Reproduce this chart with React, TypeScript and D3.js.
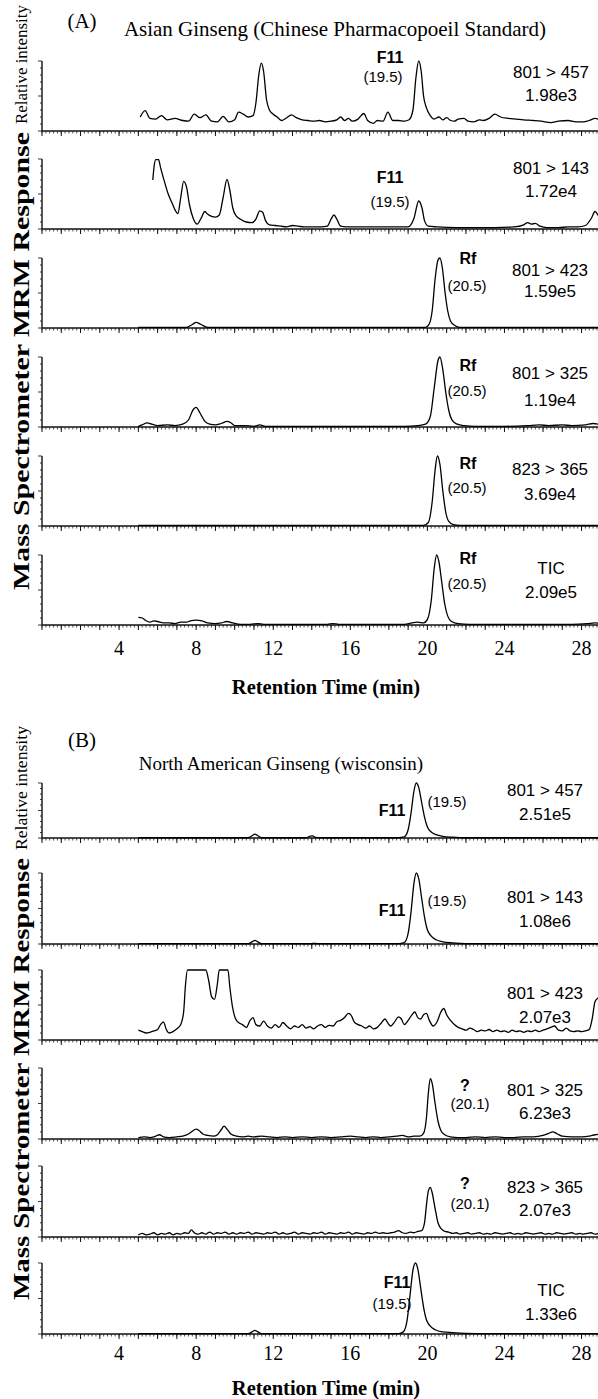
import React from 'react';
import * as d3 from 'd3';

type Pt = [number, number];

// ---------- DATA ----------
const xTickLabels = [4, 8, 12, 16, 20, 24, 28];

// Panel A (Asian Ginseng) traces: [retention time (min), relative intensity (%)]
const a801_457: Pt[] = [[5.1,20],[5.35,29],[5.6,18],[5.9,17],[6.2,22],[6.5,16],[6.9,18],[7.3,15],[7.6,14],[7.9,24],[8.2,19],[8.5,23],[8.8,14],[9.1,13],[9.4,21],[9.7,13],[10.0,16],[10.2,27],[10.45,24],[10.7,20],[10.95,22],[11.1,40],[11.25,80],[11.38,97],[11.5,85],[11.65,45],[11.8,30],[12.0,24],[12.2,20],[12.45,15],[12.7,19],[12.95,23],[13.2,19],[13.5,16],[13.8,15],[14.1,14],[14.4,15],[14.7,13],[15.0,14],[15.3,16],[15.5,20],[15.7,15],[15.9,18],[16.1,14],[16.4,17],[16.7,25],[16.9,15],[17.2,11],[17.4,15],[17.7,14],[17.95,27],[18.2,15],[18.5,15],[18.8,14],[19.05,16],[19.25,30],[19.4,75],[19.55,100],[19.68,85],[19.8,50],[19.95,33],[20.15,22],[20.35,17],[20.6,20],[20.8,16],[21.0,19],[21.2,15],[21.4,14],[21.6,17],[21.9,18],[22.1,14],[22.4,13],[22.7,16],[22.9,15],[23.2,18],[23.5,24],[23.8,20],[24.2,18],[24.6,17],[25.0,16],[25.5,15],[25.9,14],[26.4,12],[26.8,14],[27.3,15],[27.7,13],[28.1,13],[28.4,15],[28.7,18],[29.0,15]];
const a801_143: Pt[] = [[5.75,70],[5.82,90],[5.9,99],[6.05,99],[6.15,88],[6.35,68],[6.55,50],[6.75,37],[6.95,25],[7.05,22],[7.2,45],[7.35,68],[7.5,60],[7.65,35],[7.85,15],[8.05,7],[8.25,15],[8.45,25],[8.6,21],[8.8,18],[9.0,17],[9.2,20],[9.4,45],[9.6,71],[9.75,55],[9.9,30],[10.1,18],[10.3,14],[10.6,10],[10.9,9],[11.1,14],[11.3,26],[11.45,24],[11.6,12],[11.8,6],[12.1,5],[12.4,4],[12.7,3],[13.0,5],[13.3,4],[13.6,3],[14.0,3],[14.5,3],[14.8,4],[15.0,14],[15.15,20],[15.3,14],[15.5,4],[15.8,3],[16.5,3],[17.5,3],[18.5,3],[19.0,3],[19.3,15],[19.55,40],[19.72,30],[19.85,12],[20.05,4],[20.5,3],[21.5,2],[22.5,2],[23.5,2],[24.5,3],[25.0,6],[25.2,9],[25.4,7],[25.6,8],[25.85,4],[26.2,2],[26.8,2],[27.3,3],[27.8,3],[28.2,5],[28.5,15],[28.7,25],[28.85,20],[29.0,12]];
const a801_423: Pt[] = [[5.0,1],[6,1],[7.5,1],[7.8,5],[8.0,8],[8.25,5],[8.6,1],[10,1],[14,1],[19,1],[19.9,1],[20.1,6],[20.25,25],[20.4,70],[20.55,97],[20.65,100],[20.78,85],[20.92,50],[21.05,25],[21.2,10],[21.4,4],[21.7,1],[25,1],[29,1]];
const a801_325: Pt[] = [[5.0,1],[5.2,3],[5.45,6],[5.7,4],[6.0,2],[6.5,3],[6.9,2],[7.3,4],[7.6,10],[7.85,25],[8.0,28],[8.2,20],[8.45,8],[8.7,4],[9.0,3],[9.3,5],[9.6,8],[9.8,6],[10.0,2],[10.5,2],[11.0,1],[11.3,3],[11.6,1],[13,1],[15.5,1],[17,1],[18.8,1],[19.5,2],[19.9,4],[20.15,15],[20.35,55],[20.55,95],[20.65,100],[20.8,82],[20.95,50],[21.1,25],[21.3,9],[21.55,4],[21.9,2],[22.5,1],[24,1],[25.2,2],[25.8,3],[26.3,2],[27,3],[27.5,2],[28.2,3],[28.6,5],[29.0,3]];
const a823_365: Pt[] = [[5.0,1],[10,1],[15,1],[19.8,1],[20.05,5],[20.25,35],[20.4,80],[20.52,100],[20.65,88],[20.8,50],[20.95,20],[21.1,7],[21.35,2],[21.7,1],[25,1],[29,1]];
const aTIC: Pt[] = [[5.0,11],[5.2,10],[5.4,6],[5.6,4],[5.8,6],[6.0,5],[6.3,3],[6.6,3],[6.9,2],[7.2,4],[7.5,4],[7.7,6],[8.0,7],[8.3,6],[8.6,3],[9.0,2],[9.3,3],[9.6,5],[9.9,3],[10.3,1],[10.8,1],[11.2,2],[11.5,1],[12.5,1],[14.8,1],[15.1,2],[15.4,1],[17,1],[18.8,1],[19.2,3],[19.5,4],[19.8,3],[20.0,8],[20.2,35],[20.35,80],[20.48,100],[20.6,90],[20.75,60],[20.9,30],[21.05,13],[21.25,5],[21.6,2],[22.2,1],[25,1],[27.5,1],[28.3,2],[28.7,3],[29.0,2]];

// Panel B (North American Ginseng) traces
const b801_457: Pt[] = [[5.0,0.5],[9,0.5],[10.7,0.5],[10.9,4],[11.05,7],[11.2,4],[11.4,0.5],[13.7,0.5],[13.9,3],[14.05,4],[14.2,1],[14.5,0.5],[18.5,0.5],[18.8,2],[19.0,15],[19.15,45],[19.3,85],[19.42,100],[19.55,92],[19.7,65],[19.85,38],[20.0,20],[20.2,11],[20.45,6],[20.8,3],[21.3,1.5],[22,0.5],[23,0.5],[29,0.5]];
const b801_143: Pt[] = [[5,0.5],[10.7,0.5],[10.9,3],[11.05,5],[11.2,3],[11.4,0.5],[14,0.5],[14.1,1],[14.3,0.5],[18.5,0.5],[18.8,2],[19.0,15],[19.15,45],[19.3,85],[19.42,100],[19.55,92],[19.7,65],[19.85,38],[20.0,20],[20.2,11],[20.45,6],[20.8,3],[21.3,1.5],[22,0.5],[23,0.5],[29,0.5]];
const b801_423: Pt[] = [[5.0,14],[5.2,12],[5.4,10],[5.6,11],[5.8,13],[6.0,15],[6.15,22],[6.3,26],[6.45,15],[6.6,10],[6.8,12],[7.0,16],[7.2,22],[7.35,40],[7.45,80],[7.55,100],[8.5,100],[8.65,85],[8.8,62],[8.95,58],[9.1,80],[9.2,100],[9.65,100],[9.75,75],[9.9,45],[10.05,30],[10.2,25],[10.4,22],[10.6,18],[10.8,28],[10.95,32],[11.1,22],[11.3,20],[11.5,27],[11.7,20],[11.9,17],[12.1,22],[12.3,18],[12.5,25],[12.7,20],[12.9,16],[13.1,20],[13.3,18],[13.5,22],[13.7,17],[13.9,19],[14.1,16],[14.3,20],[14.5,22],[14.7,18],[14.9,21],[15.1,20],[15.3,26],[15.5,28],[15.7,32],[15.9,38],[16.05,35],[16.2,26],[16.4,22],[16.6,20],[16.8,17],[17.0,20],[17.2,16],[17.4,18],[17.6,24],[17.8,30],[17.95,24],[18.1,20],[18.3,26],[18.5,33],[18.65,30],[18.8,22],[19.0,28],[19.2,36],[19.35,40],[19.5,32],[19.65,30],[19.8,36],[19.95,38],[20.1,28],[20.3,20],[20.5,26],[20.7,40],[20.85,45],[21.0,36],[21.2,28],[21.4,22],[21.6,18],[21.8,16],[22.0,14],[22.2,17],[22.4,15],[22.6,12],[22.8,14],[23.0,13],[23.2,15],[23.4,12],[23.6,14],[23.8,12],[24.0,13],[24.2,11],[24.4,14],[24.6,12],[24.8,13],[25.0,11],[25.2,13],[25.4,12],[25.6,14],[25.8,12],[26.0,14],[26.2,16],[26.4,18],[26.6,20],[26.8,14],[27.0,13],[27.2,17],[27.4,13],[27.6,12],[27.8,13],[28.0,12],[28.2,13],[28.4,15],[28.55,30],[28.7,55],[28.85,60],[29.0,62]];
const b801_325: Pt[] = [[5.0,2],[5.3,3],[5.6,2],[5.9,4],[6.1,6],[6.3,3],[6.6,2],[7.0,3],[7.3,4],[7.6,7],[7.8,11],[8.0,14],[8.15,12],[8.35,7],[8.6,5],[8.9,4],[9.1,6],[9.3,13],[9.45,18],[9.6,14],[9.8,7],[10.1,4],[10.4,3],[10.7,4],[11.0,3],[11.4,4],[11.8,3],[12.2,2],[12.6,3],[13.0,2],[13.5,3],[14.0,2],[14.5,3],[15.0,2],[15.5,3],[16.0,4],[16.4,3],[16.8,2],[17.2,3],[17.6,2],[18.0,3],[18.4,4],[18.7,5],[19.0,3],[19.3,4],[19.6,4],[19.8,8],[19.95,30],[20.05,65],[20.15,85],[20.25,78],[20.4,50],[20.55,25],[20.7,12],[20.9,6],[21.2,3],[21.6,2],[22.0,2],[22.5,3],[23.0,2],[23.5,3],[24.0,2],[24.5,2],[25.0,3],[25.5,3],[26.0,5],[26.3,8],[26.5,10],[26.75,7],[27.0,4],[27.5,3],[28.0,3],[28.4,4],[28.7,6],[29.0,7]];
const b823_365: Pt[] = [[5.0,3],[5.2,5],[5.4,3],[5.6,4],[5.8,6],[6.0,3],[6.2,5],[6.4,4],[6.6,6],[6.8,3],[7.0,5],[7.2,4],[7.4,6],[7.6,5],[7.75,10],[7.9,6],[8.1,4],[8.3,6],[8.5,4],[8.7,7],[8.9,4],[9.1,6],[9.3,5],[9.5,7],[9.7,4],[9.9,6],[10.1,4],[10.3,6],[10.5,5],[10.7,7],[10.9,4],[11.1,6],[11.3,5],[11.5,4],[11.7,6],[11.9,5],[12.1,7],[12.3,4],[12.5,6],[12.7,4],[12.9,5],[13.1,7],[13.3,4],[13.5,6],[13.7,5],[13.9,4],[14.1,6],[14.3,5],[14.5,7],[14.7,4],[14.9,6],[15.1,5],[15.3,4],[15.5,6],[15.7,5],[15.9,7],[16.1,4],[16.3,6],[16.5,5],[16.7,4],[16.9,6],[17.1,5],[17.3,7],[17.5,5],[17.7,6],[17.9,5],[18.1,6],[18.3,7],[18.5,9],[18.7,6],[18.9,5],[19.1,7],[19.3,6],[19.5,8],[19.7,9],[19.85,20],[19.95,45],[20.05,65],[20.15,70],[20.25,62],[20.4,40],[20.55,20],[20.7,12],[20.9,8],[21.1,7],[21.3,5],[21.5,6],[21.7,4],[21.9,5],[22.1,6],[22.3,4],[22.5,5],[22.7,6],[22.9,4],[23.1,5],[23.3,4],[23.5,6],[23.7,5],[23.9,4],[24.1,5],[24.3,6],[24.5,4],[24.7,5],[24.9,4],[25.1,6],[25.3,5],[25.5,4],[25.7,5],[25.9,6],[26.1,4],[26.3,5],[26.5,4],[26.7,6],[26.9,5],[27.1,4],[27.3,5],[27.5,6],[27.7,4],[27.9,5],[28.1,4],[28.3,5],[28.5,6],[28.7,4],[28.9,5],[29.0,5]];
const bTIC: Pt[] = [[5,0.5],[10.7,0.5],[10.9,3],[11.05,5],[11.2,3],[11.4,0.5],[18.5,0.5],[18.75,3],[18.95,20],[19.1,55],[19.25,90],[19.38,100],[19.5,92],[19.65,65],[19.8,38],[19.95,20],[20.15,11],[20.4,6],[20.8,3],[21.3,2],[22,1],[23,0.5],[29,0.5]];

const aTransitions = ['801 > 457', '801 > 143', '801 > 423', '801 > 325', '823 > 365', 'TIC'];
const aScaleLabels = ['1.98e3', '1.72e4', '1.59e5', '1.19e4', '3.69e4', '2.09e5'];
const aCompounds = ['F11', 'F11', 'Rf', 'Rf', 'Rf', 'Rf'];
const aRetention = ['(19.5)', '(19.5)', '(20.5)', '(20.5)', '(20.5)', '(20.5)'];

const bTransitions = ['801 > 457', '801 > 143', '801 > 423', '801 > 325', '823 > 365', 'TIC'];
const bScaleLabels = ['2.51e5', '1.08e6', '2.07e3', '6.23e3', '2.07e3', '1.33e6'];
const bCompounds = ['F11', 'F11', '', '?', '?', 'F11'];
const bRetention = ['(19.5)', '(19.5)', '', '(20.1)', '(20.1)', '(19.5)'];

// ---------- LAYOUT ----------
const W = 598;
const H = 1399;
const X0 = 42;
const PX_PER_MIN = 19.27;
const SERIF = '"Liberation Serif", "Times New Roman", serif';
const SANS = '"Liberation Sans", Arial, sans-serif';

type Ann = { cx: number; cy: number; rx: number; ry: number; tx: number; ty: number; sy: number };

const aBase = [131, 229, 328, 427, 526, 625];
const aHeight = [70, 70, 70, 70, 70, 70];
const aAnn: Ann[] = [
  { cx: 390, cy: -74, rx: 383, ry: -55, tx: 551, ty: -59, sy: -36 },
  { cx: 390, cy: -52, rx: 390, ry: -28, tx: 551, ty: -61, sy: -38 },
  { cx: 468, cy: -70, rx: 467, ry: -43, tx: 550, ty: -58, sy: -37 },
  { cx: 468, cy: -62, rx: 467, ry: -37, tx: 550, ty: -54, sy: -27 },
  { cx: 468, cy: -63, rx: 467, ry: -39, tx: 550, ty: -57, sy: -32 },
  { cx: 468, cy: -67, rx: 467, ry: -42, tx: 551, ty: -57, sy: -33 },
];
const bBase = [838, 944, 1040, 1139, 1237, 1334];
const bHeight = [55, 71, 70, 71, 71, 71];
const bAnn: Ann[] = [
  { cx: 392, cy: -28, rx: 447, ry: -37, tx: 545, ty: -48, sy: -24 },
  { cx: 392, cy: -34, rx: 447, ry: -44, tx: 545, ty: -47, sy: -23 },
  { cx: 0, cy: 0, rx: 0, ry: 0, tx: 545, ty: -47, sy: -23 },
  { cx: 465, cy: -54, rx: 470, ry: -36, tx: 545, ty: -49, sy: -26 },
  { cx: 465, cy: -54, rx: 470, ry: -34, tx: 545, ty: -50, sy: -27 },
  { cx: 397, cy: -52, rx: 392, ry: -31, tx: 551, ty: -44, sy: -20 },
];

const x = d3.scaleLinear().domain([0, 29]).range([X0, X0 + 29 * PX_PER_MIN]);

function Panel({ data, base, height, ann, transition, scaleLabel, compound, rt }: {
  data: Pt[]; base: number; height: number; ann: Ann; transition: string; scaleLabel: string; compound: string; rt: string;
}) {
  const y = d3.scaleLinear().domain([0, 100]).range([base, base - height]);
  const line = d3.line<Pt>().x(d => x(d[0])).y(d => y(d[1])).curve(d3.curveMonotoneX);
  const minor = d3.range(0, 29.01, 0.2);
  const major = d3.range(0, 30, 1);
  const yMinor = d3.range(0, 101, 10);
  return (
    <g>
      <line x1={X0} x2={W} y1={base} y2={base} stroke="#111" strokeWidth={1.6} />
      <line x1={X0} x2={X0} y1={base - height} y2={base} stroke="#111" strokeWidth={1.4} />
      {minor.map((t, i) => (
        <line key={'m' + i} x1={x(t)} x2={x(t)} y1={base} y2={base + 2.5} stroke="#222" strokeWidth={0.8} />
      ))}
      {major.map((t, i) => (
        <line key={'M' + i} x1={x(t)} x2={x(t)} y1={base} y2={base + 5} stroke="#111" strokeWidth={1} />
      ))}
      {yMinor.map((v, i) => (
        <line key={'y' + i} x1={X0 - (v % 50 === 0 ? 4 : 2)} x2={X0} y1={y(v)} y2={y(v)} stroke="#222" strokeWidth={0.9} />
      ))}
      <path d={line(data) || ''} fill="none" stroke="#000" strokeWidth={1.3} strokeLinejoin="round" />
      {compound && (
        <text x={ann.cx} y={base + ann.cy} textAnchor="middle" dominantBaseline="central"
          fontFamily={SANS} fontWeight="bold" fontSize={16}>{compound}</text>
      )}
      {rt && (
        <text x={ann.rx} y={base + ann.ry} textAnchor="middle" dominantBaseline="central"
          fontFamily={SANS} fontSize={15}>{rt}</text>
      )}
      <text x={ann.tx} y={base + ann.ty} textAnchor="middle" dominantBaseline="central"
        fontFamily={SANS} fontSize={17}>{transition}</text>
      <text x={ann.tx} y={base + ann.sy} textAnchor="middle" dominantBaseline="central"
        fontFamily={SANS} fontSize={17}>{scaleLabel}</text>
    </g>
  );
}

function Section(p: any) {
  const lastBase = p.bases[p.bases.length - 1];
  return (
    <g>
      <text x={82} y={p.letterY} textAnchor="middle" dominantBaseline="central" fontFamily={SERIF} fontSize={21}>{p.letter}</text>
      <text x={p.titleX} y={p.titleY} textAnchor="middle" dominantBaseline="central" fontFamily={SERIF} fontSize={p.titleSize}>{p.title}</text>
      <text transform={`translate(29,${p.boldStart}) rotate(-90)`} fontFamily={SERIF} fontWeight="bold" fontSize={23}
        textLength={p.boldLen} lengthAdjust="spacingAndGlyphs">Mass Spectrometer MRM Response</text>
      <text transform={`translate(27,${p.relStart}) rotate(-90)`} fontFamily={SERIF} fontSize={17}
        textLength={p.relLen} lengthAdjust="spacingAndGlyphs">Relative intensity</text>
      {p.traces.map((tr: Pt[], i: number) => (
        <Panel key={i} data={tr} base={p.bases[i]} height={p.heights[i]} ann={p.anns[i]} transition={p.transitions[i]}
          scaleLabel={p.scales[i]} compound={p.compounds[i]} rt={p.rts[i]} />
      ))}
      {xTickLabels.map(t => (
        <text key={t} x={x(t)} y={lastBase + p.labelGap} textAnchor="middle" dominantBaseline="central"
          fontFamily={SERIF} fontSize={20}>{t}</text>
      ))}
      <text x={326} y={lastBase + p.titleGap} textAnchor="middle" dominantBaseline="central"
        fontFamily={SERIF} fontWeight="bold" fontSize={20.5}>Retention Time (min)</text>
    </g>
  );
}

export default function App() {
  return (
    <svg width={W} height={H} viewBox={`0 0 ${W} ${H}`} style={{ position: 'absolute', left: 0, top: 0, background: '#fff' }}>
      <rect x={0} y={0} width={W} height={H} fill="#fff" />
      <Section letter="(A)" letterY={21} title="Asian Ginseng (Chinese Pharmacopoeil Standard)" titleX={335} titleY={29} titleSize={21}
        boldStart={590} boldLen={458} relStart={124} relLen={119}
        traces={[a801_457, a801_143, a801_423, a801_325, a823_365, aTIC]} bases={aBase} heights={aHeight} anns={aAnn}
        transitions={aTransitions} scales={aScaleLabels} compounds={aCompounds} rts={aRetention} labelGap={23} titleGap={62} />
      <Section letter="(B)" letterY={740} title="North American Ginseng (wisconsin)" titleX={281} titleY={763} titleSize={19}
        boldStart={1300} boldLen={442} relStart={850} relLen={124}
        traces={[b801_457, b801_143, b801_423, b801_325, b823_365, bTIC]} bases={bBase} heights={bHeight} anns={bAnn}
        transitions={bTransitions} scales={bScaleLabels} compounds={bCompounds} rts={bRetention} labelGap={19} titleGap={54} />
    </svg>
  );
}
